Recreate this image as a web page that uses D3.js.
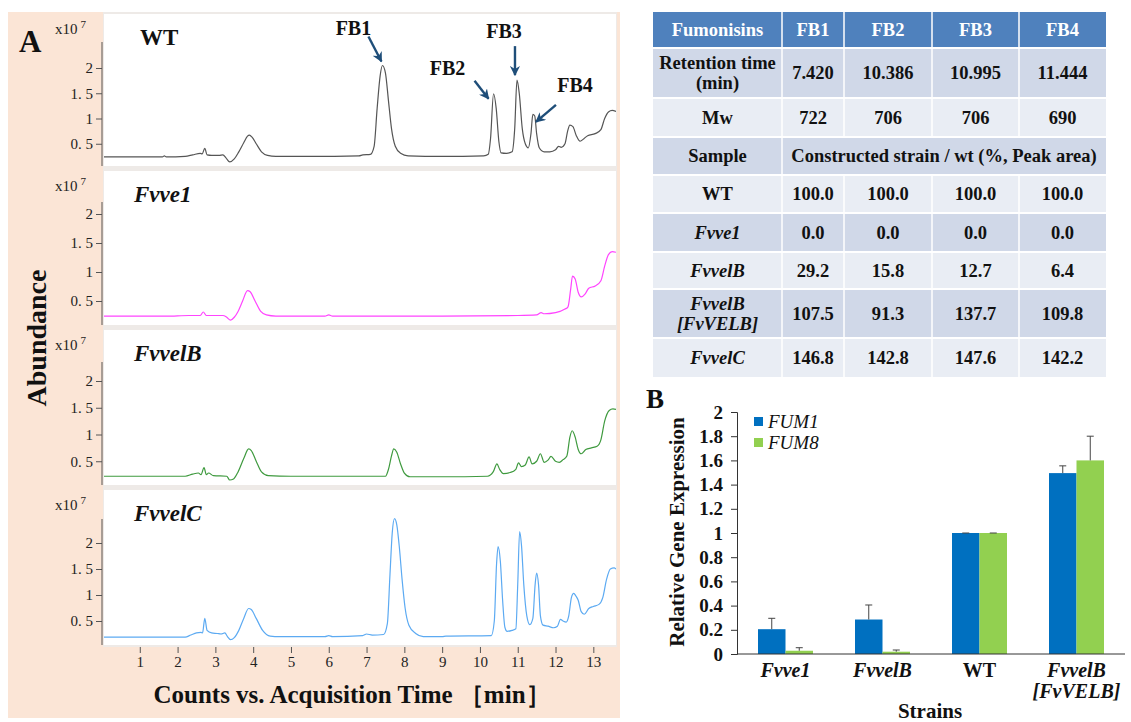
<!DOCTYPE html>
<html><head><meta charset="utf-8">
<script src="https://cdn.jsdelivr.net/npm/d3@7"></script>
<style>
body{margin:0;background:#fff}
svg{display:block}
</style>
</head><body>
<svg id="c" width="1131" height="722"></svg>
<script>
// ---------------- DATA ----------------
const samples = ["WT", "Fvve1", "FvvelB", "FvvelC"];
const timeTicks = [1,2,3,4,5,6,7,8,9,10,11,12,13];
const abundanceTicks = [0.5, 1, 1.5, 2];

// chromatogram traces: [time (min), abundance (x10^7)]
const wtTrace = [[0.05,0.24],[1.0,0.24],[1.6,0.24],[1.65,0.26],[1.7,0.24],[2.2,0.25],[2.4,0.28],[2.6,0.31],[2.65,0.3],[2.72,0.41],[2.78,0.28],[2.9,0.27],[3.1,0.27],[3.2,0.28],[3.28,0.22],[3.38,0.14],[3.5,0.2],[3.62,0.34],[3.75,0.52],[3.85,0.65],[3.9,0.67],[3.97,0.63],[4.08,0.5],[4.22,0.34],[4.38,0.27],[4.6,0.25],[5.5,0.25],[6.8,0.26],[6.9,0.28],[7.1,0.29],[7.2,0.45],[7.28,1.2],[7.36,1.85],[7.42,2.05],[7.5,1.9],[7.58,1.35],[7.66,0.8],[7.76,0.45],[7.9,0.31],[8.1,0.26],[9,0.25],[10.1,0.26],[10.22,0.29],[10.28,0.6],[10.36,1.49],[10.43,1.2],[10.5,0.55],[10.56,0.32],[10.7,0.31],[10.85,0.34],[10.92,0.8],[10.98,1.76],[11.04,1.5],[11.12,0.8],[11.2,0.5],[11.28,0.42],[11.35,0.7],[11.4,1.08],[11.45,1.05],[11.5,0.7],[11.57,0.42],[11.7,0.34],[11.85,0.34],[12.0,0.38],[12.08,0.45],[12.15,0.43],[12.25,0.5],[12.32,0.75],[12.38,0.87],[12.46,0.84],[12.55,0.66],[12.65,0.55],[12.75,0.6],[12.85,0.66],[13.05,0.7],[13.2,0.78],[13.3,1.0],[13.4,1.13],[13.5,1.16],[13.6,1.14]];
const fvve1Trace = [[0.05,0.24],[1.7,0.24],[2.3,0.25],[2.6,0.25],[2.68,0.31],[2.76,0.25],[3.0,0.25],[3.2,0.25],[3.3,0.22],[3.4,0.17],[3.5,0.22],[3.6,0.32],[3.72,0.5],[3.85,0.68],[3.92,0.66],[4.05,0.5],[4.2,0.32],[4.35,0.26],[4.6,0.24],[5.9,0.24],[6.0,0.26],[6.1,0.24],[7,0.24],[9,0.24],[11,0.25],[11.5,0.26],[11.62,0.3],[11.7,0.28],[12.0,0.3],[12.25,0.36],[12.33,0.4],[12.4,0.7],[12.45,0.93],[12.52,0.88],[12.6,0.65],[12.68,0.57],[12.78,0.62],[12.88,0.72],[13.05,0.76],[13.2,0.85],[13.3,1.1],[13.4,1.3],[13.5,1.35],[13.6,1.34]];
const fvvelBTrace = [[0.05,0.22],[2.2,0.22],[2.4,0.26],[2.55,0.28],[2.62,0.25],[2.7,0.38],[2.76,0.25],[2.82,0.28],[2.95,0.23],[3.3,0.22],[3.38,0.15],[3.48,0.17],[3.6,0.3],[3.75,0.55],[3.88,0.73],[3.95,0.7],[4.08,0.5],[4.22,0.3],[4.4,0.23],[5,0.22],[7.5,0.22],[7.58,0.35],[7.66,0.6],[7.72,0.73],[7.8,0.67],[7.9,0.45],[8.0,0.28],[8.15,0.21],[9.0,0.21],[10.2,0.22],[10.35,0.3],[10.45,0.45],[10.52,0.35],[10.62,0.27],[10.8,0.29],[10.95,0.35],[11.02,0.47],[11.1,0.4],[11.2,0.43],[11.3,0.58],[11.38,0.45],[11.5,0.5],[11.6,0.64],[11.7,0.48],[11.8,0.52],[11.88,0.59],[12.0,0.5],[12.1,0.48],[12.2,0.53],[12.3,0.6],[12.38,0.95],[12.44,1.07],[12.52,0.95],[12.6,0.72],[12.68,0.64],[12.8,0.72],[12.95,0.75],[13.1,0.78],[13.2,0.9],[13.3,1.25],[13.42,1.45],[13.52,1.48],[13.6,1.47]];
const fvvelCTrace = [[0.05,0.19],[2.2,0.19],[2.35,0.23],[2.5,0.27],[2.62,0.28],[2.66,0.27],[2.72,0.55],[2.78,0.32],[2.9,0.27],[3.05,0.26],[3.15,0.25],[3.25,0.27],[3.32,0.2],[3.4,0.14],[3.5,0.18],[3.62,0.32],[3.75,0.55],[3.88,0.74],[3.95,0.72],[4.08,0.55],[4.25,0.32],[4.45,0.21],[4.7,0.2],[5.9,0.2],[6.0,0.22],[6.1,0.2],[6.9,0.22],[7.0,0.25],[7.15,0.23],[7.45,0.24],[7.55,0.45],[7.62,1.4],[7.68,2.2],[7.74,2.47],[7.8,2.35],[7.87,1.9],[7.94,1.3],[8.02,0.75],[8.12,0.42],[8.3,0.26],[8.5,0.2],[9.0,0.2],[9.1,0.21],[10.3,0.22],[10.38,0.5],[10.44,1.6],[10.48,1.93],[10.54,1.65],[10.6,0.9],[10.66,0.38],[10.72,0.3],[10.85,0.32],[10.95,0.35],[11.0,1.2],[11.05,2.22],[11.1,1.95],[11.16,1.2],[11.24,0.6],[11.32,0.43],[11.4,0.55],[11.46,1.2],[11.5,1.42],[11.55,1.2],[11.6,0.6],[11.67,0.42],[11.8,0.4],[11.95,0.37],[12.05,0.4],[12.13,0.53],[12.2,0.5],[12.28,0.48],[12.35,0.6],[12.42,0.95],[12.48,1.03],[12.54,0.98],[12.6,0.9],[12.68,0.68],[12.76,0.63],[12.88,0.74],[13.0,0.78],[13.15,0.82],[13.25,0.95],[13.35,1.3],[13.45,1.5],[13.55,1.52],[13.6,1.5]];

// WT peak annotations
const peakLabels = ["FB1", "FB2", "FB3", "FB4"];
const peakTimes = [7.42, 10.36, 10.98, 11.43];
const peakHeights = [2.05, 1.49, 1.76, 1.09];

// table
const tableHeader = ["Fumonisins", "FB1", "FB2", "FB3", "FB4"];
const retentionTimes = ["7.420", "10.386", "10.995", "11.444"];
const molWeights = ["722", "706", "706", "690"];
const tableSamples = ["WT", "Fvve1", "FvvelB", "FvvelB|[FvVELB]", "FvvelC"];
const peakAreaPct = [
  [100.0, 100.0, 100.0, 100.0],
  [0.0, 0.0, 0.0, 0.0],
  [29.2, 15.8, 12.7, 6.4],
  [107.5, 91.3, 137.7, 109.8],
  [146.8, 142.8, 147.6, 142.2]
];

// bar chart
const strains = ["Fvve1", "FvvelB", "WT", "FvvelB|[FvVELB]"];
const genes = ["FUM1", "FUM8"];
const fum1 = [0.205, 0.285, 1.0, 1.495];
const fum8 = [0.027, 0.019, 1.0, 1.6];
const fum1Err = [0.09, 0.12, 0.0, 0.06];
const fum8Err = [0.025, 0.014, 0.0, 0.2];
const exprTicks = [0, 0.2, 0.4, 0.6, 0.8, 1, 1.2, 1.4, 1.6, 1.8, 2];

// ---------------- DRAW ----------------
const SERIF = "'Liberation Serif','Times New Roman',serif";
const svg = d3.select("#c");
svg.append("rect").attr("width", 1131).attr("height", 722).attr("fill", "#fff");

// ===== Panel A =====
svg.append("rect").attr("x", 8).attr("y", 12).attr("width", 612).attr("height", 706).attr("fill", "#fbe5d6");
svg.append("rect").attr("x", 103).attr("y", 12).attr("width", 514).attr("height", 635).attr("fill", "#eeeae7");

const x = d3.scaleLinear().domain([0, 13.6]).range([102, 616]);

const traces = [wtTrace, fvve1Trace, fvvelBTrace, fvvelCTrace];
const panelCfg = [
  {color: "#555555", top: 14, bottom: 166, y0: 169, y2: 68, axisTop: 42, italic: false},
  {color: "#ff44ff", top: 171, bottom: 325, y0: 330, y2: 214, axisTop: 202, italic: true},
  {color: "#3f9a3f", top: 330, bottom: 485, y0: 488, y2: 381, axisTop: 362, italic: true},
  {color: "#5caaf2", top: 490, bottom: 645, y0: 647, y2: 543, axisTop: 519, italic: true}
];
const fmtAb = d => (d % 1 ? String(d).replace(".", ". ") : String(d));
const yScales = [];

samples.forEach((name, i) => {
  const p = panelCfg[i];
  const y = d3.scaleLinear().domain([0, 2]).range([p.y0, p.y2]);
  yScales.push(y);
  svg.append("rect").attr("x", 104).attr("y", p.top).attr("width", 512).attr("height", p.bottom - p.top).attr("fill", "#fff");
  const cid = "clip" + i;
  svg.append("clipPath").attr("id", cid).append("rect")
    .attr("x", 104).attr("y", p.top).attr("width", 512).attr("height", p.bottom - p.top);
  const line = d3.line().x(d => x(d[0])).y(d => y(d[1])).curve(d3.curveMonotoneX);
  svg.append("path").datum(traces[i]).attr("clip-path", `url(#${cid})`)
    .attr("d", line).attr("fill", "none").attr("stroke", p.color).attr("stroke-width", 1.2);

  const ax = svg.append("g").attr("transform", "translate(102,0)")
    .call(d3.axisLeft(y).tickValues(abundanceTicks).tickSize(6).tickPadding(3).tickFormat(fmtAb));
  ax.select(".domain").remove();
  ax.selectAll("line").attr("stroke", "#555");
  ax.selectAll("text").attr("font-size", 15).attr("fill", "#222");
  svg.append("line").attr("x1", 102).attr("x2", 102).attr("y1", p.axisTop).attr("y2", p.bottom)
    .attr("stroke", "#555").attr("stroke-width", 1);

  const t = svg.append("text").attr("x", 55).attr("y", p.top + 20).attr("font-size", 15).attr("fill", "#222");
  t.append("tspan").text("x10");
  t.append("tspan").attr("dx", 3).attr("dy", -6).attr("font-size", 11).text("7");

  svg.append("text").attr("x", i === 0 ? 140 : 134).attr("y", p.top + 31)
    .attr("font-size", 23).attr("font-weight", "bold")
    .attr("font-style", p.italic ? "italic" : "normal").attr("fill", "#111").text(name);
});

const xa = svg.append("g").attr("transform", "translate(0,647)")
  .call(d3.axisBottom(x).tickValues(timeTicks).tickSize(6).tickPadding(3));
xa.select(".domain").remove();
xa.selectAll("line").attr("stroke", "#555");
xa.selectAll("text").attr("font-size", 15).attr("fill", "#222");

svg.append("text").attr("x", 352).attr("y", 703).attr("text-anchor", "middle")
  .attr("font-size", 25).attr("font-weight", "bold").attr("fill", "#111")
  .text("Counts vs. Acquisition Time ［min］");
svg.append("text").attr("transform", "translate(46,338) rotate(-90)").attr("text-anchor", "middle")
  .attr("font-size", 28).attr("font-weight", "bold").attr("fill", "#111").text("Abundance");
svg.append("text").attr("x", 19).attr("y", 52).attr("font-size", 31).attr("font-weight", "bold").attr("fill", "#111").text("A");

const defs = svg.append("defs");
defs.append("marker").attr("id", "ah").attr("viewBox", "0 0 10 10").attr("refX", 9).attr("refY", 5)
  .attr("markerWidth", 4.2).attr("markerHeight", 4.2).attr("orient", "auto")
  .append("path").attr("d", "M0,0 L10,5 L0,10 L3,5 Z").attr("fill", "#1f4e79");
const yWT = yScales[0];
const arrowOff = [[-1, -4, -13, -25], [-5, 5, -14, -18], [-2, -5, 0, -29], [2, 8, 20, -17]];
const labelOff = [[-29, -30], [-46, -19], [-13, -42], [41, -22]];
peakLabels.forEach((lab, i) => {
  const px = x(peakTimes[i]), py = yWT(peakHeights[i]);
  const [tx, ty, dx, dy] = arrowOff[i];
  svg.append("line").attr("x1", px + tx + dx).attr("y1", py + ty + dy).attr("x2", px + tx).attr("y2", py + ty)
    .attr("stroke", "#1f4e79").attr("stroke-width", 2.4).attr("marker-end", "url(#ah)");
  svg.append("text").attr("x", px + labelOff[i][0]).attr("y", py + labelOff[i][1])
    .attr("text-anchor", "middle").attr("font-size", 20).attr("font-weight", "bold").attr("fill", "#111").text(lab);
});

// ===== Table =====
const colEdges = [653, 782, 844, 932, 1019, 1106];
const rowEdges = [12, 48, 98, 137, 175, 213, 252, 289, 338, 377];
const rows = [];
rows.push({cells: tableHeader, header: true});
rows.push({cells: ["Retention time|(min)", ...retentionTimes]});
rows.push({cells: ["Mw", ...molWeights]});
rows.push({cells: ["Sample", "Constructed strain / wt (%, Peak area)"], span: true});
tableSamples.forEach((s, i) => rows.push({cells: [s, ...peakAreaPct[i].map(v => v.toFixed(1))], sample: s !== "WT"}));
const rowFill = (i) => i === 0 ? "#4f81bd" : (i % 2 === 1 ? "#d0d8e8" : "#e9edf4");
const tg = svg.append("g");
rows.forEach((r, ri) => {
  const y0 = rowEdges[ri], y1 = rowEdges[ri + 1];
  tg.append("rect").attr("x", colEdges[0]).attr("y", y0).attr("width", colEdges[5] - colEdges[0]).attr("height", y1 - y0)
    .attr("fill", rowFill(ri));
  r.cells.forEach((c, ci) => {
    const xl = colEdges[ci], xr = r.span && ci === 1 ? colEdges[5] : colEdges[ci + 1];
    const lines = c.split("|");
    const cy = (y0 + y1) / 2;
    const lh = 20;
    lines.forEach((ln, li) => {
      tg.append("text").attr("x", (xl + xr) / 2).attr("y", cy + (li - (lines.length - 1) / 2) * lh + 6)
        .attr("text-anchor", "middle").attr("font-size", 18.5).attr("font-weight", "bold")
        .attr("font-style", (r.sample && ci === 0) ? "italic" : "normal")
        .attr("fill", r.header ? "#fff" : "#111").text(ln);
    });
  });
  const seps = r.span ? [colEdges[1]] : colEdges.slice(1, 5);
  seps.forEach(sx => tg.append("line").attr("x1", sx).attr("x2", sx).attr("y1", y0).attr("y2", y1)
    .attr("stroke", "#fff").attr("stroke-width", 1.5));
  if (ri > 0) tg.append("line").attr("x1", colEdges[0]).attr("x2", colEdges[5]).attr("y1", y0).attr("y2", y0)
    .attr("stroke", "#fff").attr("stroke-width", 2);
});

// ===== Panel B (bars) =====
const yB = d3.scaleLinear().domain([0, 2]).range([654, 412]);
const x0 = d3.scaleBand().domain(strains).range([737, 1125]);
const x1 = d3.scaleBand().domain(genes).range([0, 55]);
const barColors = {FUM1: "#0070c0", FUM8: "#92d050"};
const values = {FUM1: fum1, FUM8: fum8};
const errs = {FUM1: fum1Err, FUM8: fum8Err};

const bg = svg.append("g");
strains.forEach((s, si) => {
  const gx = x0(s) + x0.bandwidth() / 2 - 27.5;
  genes.forEach(g => {
    const v = values[g][si], e = errs[g][si];
    const bx = gx + x1(g);
    bg.append("rect").attr("x", bx).attr("y", yB(v)).attr("width", x1.bandwidth()).attr("height", yB(0) - yB(v))
      .attr("fill", barColors[g]);
    const cx = bx + x1.bandwidth() / 2;
    if (e > 0) {
      bg.append("line").attr("x1", cx).attr("x2", cx).attr("y1", yB(v)).attr("y2", yB(v + e)).attr("stroke", "#444").attr("stroke-width", 1);
      bg.append("line").attr("x1", cx - 3.5).attr("x2", cx + 3.5).attr("y1", yB(v + e)).attr("y2", yB(v + e)).attr("stroke", "#444").attr("stroke-width", 1);
    } else {
      bg.append("line").attr("x1", cx - 3.5).attr("x2", cx + 3.5).attr("y1", yB(v)).attr("y2", yB(v)).attr("stroke", "#444").attr("stroke-width", 1);
    }
  });
});
const yaxB = svg.append("g").attr("transform", "translate(737,0)")
  .call(d3.axisLeft(yB).tickValues(exprTicks).tickSize(6).tickPadding(8).tickFormat(d3.format("")));
yaxB.select(".domain").attr("stroke", "#333");
yaxB.selectAll("line").attr("stroke", "#333");
yaxB.selectAll("text").attr("font-size", 19).attr("font-weight", "bold").attr("fill", "#111");
svg.append("line").attr("x1", 737).attr("x2", 1125).attr("y1", 654).attr("y2", 654).attr("stroke", "#333");

strains.forEach(s => {
  const lines = s.split("|");
  lines.forEach((ln, li) => {
    svg.append("text").attr("x", x0(s) + x0.bandwidth() / 2).attr("y", 677 + li * 21)
      .attr("text-anchor", "middle").attr("font-size", 20).attr("font-weight", "bold")
      .attr("font-style", s === "WT" ? "normal" : "italic").attr("fill", "#111").text(ln);
  });
});
svg.append("text").attr("x", 930).attr("y", 718).attr("text-anchor", "middle").attr("font-size", 21)
  .attr("font-weight", "bold").attr("fill", "#111").text("Strains");
svg.append("text").attr("transform", "translate(684,532) rotate(-90)").attr("text-anchor", "middle")
  .attr("font-size", 21).attr("font-weight", "bold").attr("fill", "#111").text("Relative Gene Expression");
svg.append("text").attr("x", 646).attr("y", 408).attr("font-size", 27).attr("font-weight", "bold").attr("fill", "#111").text("B");

genes.forEach((g, i) => {
  svg.append("rect").attr("x", 754).attr("y", 417 + i * 21).attr("width", 9).attr("height", 9).attr("fill", barColors[g]);
  svg.append("text").attr("x", 768).attr("y", 428 + i * 21).attr("font-size", 19).attr("font-style", "italic")
    .attr("fill", "#111").text(g);
});

svg.selectAll("text").style("font-family", SERIF);
</script>
</body></html>
